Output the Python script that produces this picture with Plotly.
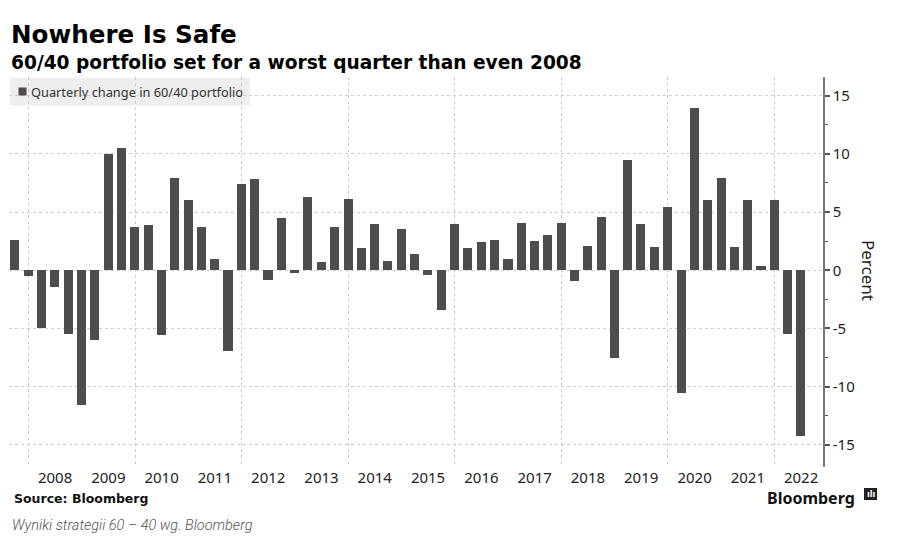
import pandas as pd
import plotly.graph_objects as go

# ---- data ----
quarter_start = "2007-09-30"
quarterly_change = [
    2.6, -0.5, -5.0, -1.4, -5.5, -11.6, -6.0, 10.0, 10.5, 3.7,
    3.9, -5.6, 7.9, 6.0, 3.7, 1.0, -6.95, 7.4, 7.85, -0.8,
    4.5, -0.2, 6.3, 0.7, 3.7, 6.15, 1.9, 4.0, 0.8, 3.55,
    1.4, -0.45, -3.4, 4.0, 1.9, 2.4, 2.6, 1.0, 4.1, 2.5,
    3.05, 4.1, -0.9, 2.05, 4.55, -7.55, 9.45, 4.0, 2.0, 5.45,
    -10.55, 13.95, 6.05, 7.95, 2.0, 6.05, 0.4, 6.05, -5.5, -14.2,
]
quarter_dates = pd.date_range(quarter_start, periods=len(quarterly_change), freq="QE")
year_labels = [str(y) for y in range(2008, 2023)]
year_label_pos = [f"{y}-07-02" for y in range(2008, 2023)]
grid_years = [f"{y}-01-01" for y in range(2008, 2023, 2)]
y_ticks = [-15, -10, -5, 0, 5, 10, 15]
y_ticktext = ["-15", "-10", "-5", "0", "5", "10", "15"]
y_minor = [-12.5, -7.5, -2.5, 2.5, 7.5, 12.5]

# ---- layout geometry (pixels) ----
W, H = 901, 542
L, R, T, B = 9, 78, 77, 75
PW, PH = W - L - R, H - T - B


def px(x):
    return (x - L) / PW


def py(y):
    return (H - B - y) / PH


BAR = "#4d4d4d"
GRID = "#cccccc"
FONT = "Noto Sans"
TFONT = "DejaVu Sans"

fig = go.Figure()
fig.add_trace(go.Bar(
    x=quarter_dates, y=quarterly_change,
    marker=dict(color=BAR, line=dict(width=0)),
    width=62 * 86400000,
    showlegend=False,
    name="Quarterly change in 60/40 portfolio",
))

fig.update_layout(
    width=W, height=H, autosize=False,
    margin=dict(l=L, r=R, t=T, b=B, pad=0),
    paper_bgcolor="white", plot_bgcolor="white",
    bargap=0,
    font=dict(family=FONT, color="#222"),
    xaxis=dict(
        type="date",
        range=["2007-08-21", "2022-11-29"],
        tickmode="array", tickvals=year_label_pos, ticktext=year_labels,
        showgrid=False, showline=False, zeroline=False, ticks="",
        tickfont=dict(size=15, color="#222", family=FONT),
        minor=dict(tickmode="array", tickvals=grid_years, showgrid=True,
                   gridcolor=GRID, griddash="dot", gridwidth=1, ticks=""),
    ),
    yaxis=dict(
        side="right",
        range=[-16.9, 16.6],
        tickmode="array", tickvals=y_ticks, ticktext=y_ticktext,
        showgrid=True, gridcolor=GRID, griddash="dot", gridwidth=1,
        zeroline=False,
        showline=True, linecolor="#777", linewidth=1.5,
        ticks="outside", ticklen=5, tickwidth=2, tickcolor="#555",
        tickfont=dict(size=15, color="#222", family=FONT),
        minor=dict(tickmode="array", tickvals=y_minor, ticks="outside",
                   ticklen=3, tickwidth=1, tickcolor="#555", showgrid=False),
    ),
)

# legend box
fig.add_shape(type="rect", xref="paper", yref="paper",
              x0=px(10), x1=px(250), y0=py(105.5), y1=py(78),
              fillcolor="rgba(232,232,232,0.75)", line=dict(width=0), layer="below")
fig.add_shape(type="rect", xref="paper", yref="paper",
              x0=px(18.5), x1=px(26.5), y0=py(95.5), y1=py(87.5),
              fillcolor=BAR, line=dict(width=0))
fig.add_annotation(xref="paper", yref="paper", x=px(28.5), y=py(92),
                   xanchor="left", yanchor="middle", showarrow=False,
                   text="Quarterly change in 60/40 portfolio",
                   font=dict(size=12.8, color="#333", family=FONT))

# titles
fig.add_annotation(xref="paper", yref="paper", x=px(9), y=py(35),
                   xanchor="left", yanchor="middle", showarrow=False,
                   text="<b>Nowhere Is Safe</b>",
                   font=dict(size=24.6, color="#000", family=TFONT))
fig.add_annotation(xref="paper", yref="paper", x=px(9), y=py(62.5),
                   xanchor="left", yanchor="middle", showarrow=False,
                   text="<b>60/40 portfolio set for a worst quarter than even 2008</b>",
                   font=dict(size=18.6, color="#000", family=TFONT))

# y-axis title
fig.add_annotation(xref="paper", yref="paper", x=px(869), y=py(270),
                   xanchor="center", yanchor="middle", showarrow=False,
                   text="Percent", textangle=90,
                   font=dict(size=17, color="#222", family=FONT))

# footer
fig.add_annotation(xref="paper", yref="paper", x=px(12), y=py(498),
                   xanchor="left", yanchor="middle", showarrow=False,
                   text="<b>Source: Bloomberg</b>",
                   font=dict(size=12.5, color="#111", family=TFONT))
fig.add_annotation(xref="paper", yref="paper", x=px(857), y=py(497.5),
                   xanchor="right", yanchor="middle", showarrow=False,
                   text="<b>Bloomberg</b>",
                   font=dict(size=16, color="#111", family=FONT))
fig.add_shape(type="rect", xref="paper", yref="paper",
              x0=px(864), x1=px(877), y0=py(500), y1=py(488),
              fillcolor="#222", line=dict(width=0))
fig.add_annotation(xref="paper", yref="paper", x=px(870.5), y=py(494),
                   xanchor="center", yanchor="middle", showarrow=False,
                   text="<b>ılı</b>",
                   font=dict(size=8, color="white", family="DejaVu Sans"))
fig.add_annotation(xref="paper", yref="paper", x=px(10), y=py(525),
                   xanchor="left", yanchor="middle", showarrow=False,
                   text="<i>Wyniki strategii 60 – 40 wg. Bloomberg</i>",
                   font=dict(size=14.5, color="#555", family="Roboto", weight=300))

fig.write_html("out.html")
